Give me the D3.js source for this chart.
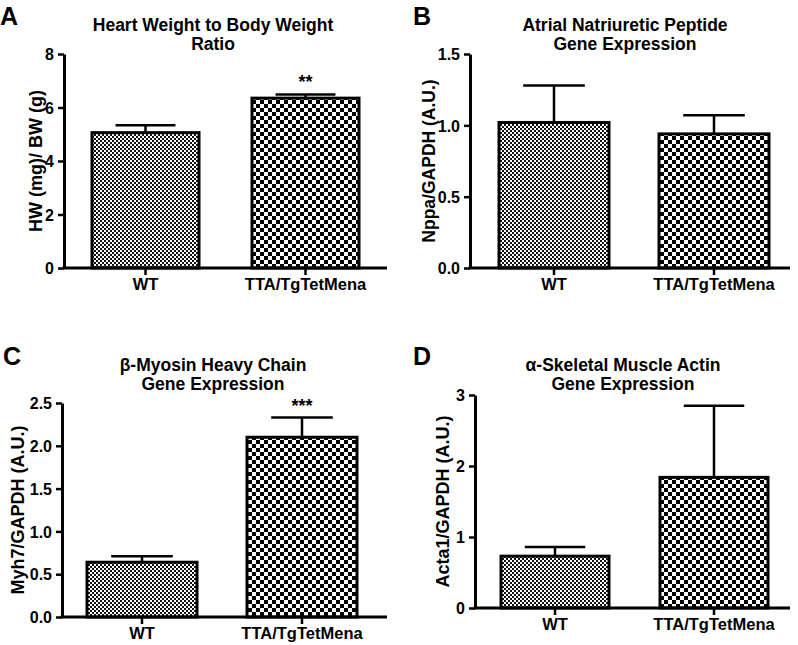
<!DOCTYPE html>
<html><head><meta charset="utf-8">
<script src="https://cdn.jsdelivr.net/npm/d3@7"></script>
<style>
body{margin:0;background:#fff}
svg{display:block}
text{font-family:"Liberation Sans",Arial,Helvetica,sans-serif;font-weight:bold;fill:#000}
</style>
</head><body>
<svg id="c" width="798" height="645"></svg>
<script>
// ---- data ----
const categories = ["WT", "TTA/TgTetMena"];
const hwbwMean = [5.06, 6.35];
const hwbwSem = [0.28, 0.14];
const nppaMean = [1.02, 0.94];
const nppaSem = [0.26, 0.13];
const myh7Mean = [0.64, 2.10];
const myh7Sem = [0.07, 0.23];
const acta1Mean = [0.73, 1.84];
const acta1Sem = [0.13, 1.01];
const hwbwTicks = [0, 2, 4, 6, 8];
const nppaTicks = [0, 0.5, 1.0, 1.5];
const myh7Ticks = [0, 0.5, 1.0, 1.5, 2.0, 2.5];
const acta1Ticks = [0, 1, 2, 3];
const panelLetters = ["A", "B", "C", "D"];
const titles = [
  ["Heart Weight to Body Weight", "Ratio"],
  ["Atrial Natriuretic Peptide", "Gene Expression"],
  ["β-Myosin Heavy Chain", "Gene Expression"],
  ["α-Skeletal Muscle Actin", "Gene Expression"]
];
const yLabels = ["HW (mg)/ BW (g)", "Nppa/GAPDH (A.U.)", "Myh7/GAPDH (A.U.)", "Acta1/GAPDH (A.U.)"];
const stars = [["", "**"], ["", ""], ["", "***"], ["", ""]];

// ---- layout ----
const layout = [
  {ax:64, axEnd:387, top:54, bottom:268, bar0:92, bw:107, step:160, titleX:213, titleY:31, letterX:0, letterY:25, ylabX:36, ylabSize:18, fmt:d3.format("d")},
  {ax:470, axEnd:790, top:54, bottom:268, bar0:499, bw:110, step:160, titleX:625, titleY:31, letterX:413, letterY:25, ylabX:429, ylabSize:17.5, fmt:d3.format(".1f")},
  {ax:62, axEnd:387, top:403, bottom:617, bar0:87, bw:110, step:160, titleX:213, titleY:371, letterX:3, letterY:365, ylabX:18, ylabSize:18, fmt:d3.format(".1f")},
  {ax:475, axEnd:790, top:395, bottom:608, bar0:501, bw:108, step:159, titleX:623, titleY:371, letterX:413, letterY:365, ylabX:443, ylabSize:18, fmt:d3.format("d")}
];
const means = [hwbwMean, nppaMean, myh7Mean, acta1Mean];
const sems = [hwbwSem, nppaSem, myh7Sem, acta1Sem];
const ticks = [hwbwTicks, nppaTicks, myh7Ticks, acta1Ticks];

const svg = d3.select("#c");
const defs = svg.append("defs");
// fine checker for WT
const p1 = defs.append("pattern").attr("id","fine").attr("patternUnits","userSpaceOnUse").attr("width",4).attr("height",4);
p1.append("rect").attr("width",4).attr("height",4).attr("fill","#fff");
p1.append("rect").attr("width",2).attr("height",2).attr("fill","#111");
p1.append("rect").attr("x",2).attr("y",2).attr("width",2).attr("height",2).attr("fill","#111");
// coarse checker for TTA
const p2 = defs.append("pattern").attr("id","coarse").attr("patternUnits","userSpaceOnUse").attr("width",8).attr("height",8);
p2.append("rect").attr("width",8).attr("height",8).attr("fill","#fff");
p2.append("rect").attr("width",4).attr("height",4).attr("fill","#000");
p2.append("rect").attr("x",4).attr("y",4).attr("width",4).attr("height",4).attr("fill","#000");
const fills = ["url(#fine)", "url(#coarse)"];

layout.forEach((L, k) => {
  const g = svg.append("g");
  const x = d3.scaleBand().domain(categories)
    .range([L.bar0, L.bar0 + L.step + L.bw])
    .paddingInner(1 - L.bw / L.step).paddingOuter(0);
  const tk = ticks[k];
  const y = d3.scaleLinear().domain([0, tk[tk.length - 1]]).range([L.bottom, L.top]);
  const data = categories.map((c, i) => ({c, m: means[k][i], s: sems[k][i], star: stars[k][i], i}));

  // error bars (upward only)
  data.forEach(d => {
    const cx = x(d.c) + x.bandwidth() / 2;
    const cw = x.bandwidth() * 0.56;
    g.append("line").attr("x1", cx).attr("x2", cx).attr("y1", y(d.m)).attr("y2", y(d.m + d.s))
      .attr("stroke", "#000").attr("stroke-width", 2.5);
    g.append("line").attr("x1", cx - cw / 2).attr("x2", cx + cw / 2).attr("y1", y(d.m + d.s)).attr("y2", y(d.m + d.s))
      .attr("stroke", "#000").attr("stroke-width", 2.5);
    if (d.star) {
      g.append("text").attr("x", cx).attr("y", y(d.m + d.s) - 6).attr("text-anchor", "middle")
        .attr("font-size", 18).text(d.star);
    }
  });
  // bars
  g.selectAll("rect.bar").data(data).enter().append("rect").attr("class", "bar")
    .attr("x", d => x(d.c)).attr("width", x.bandwidth())
    .attr("y", d => y(d.m)).attr("height", d => y(0) - y(d.m))
    .attr("fill", d => fills[d.i]).attr("stroke", "#000").attr("stroke-width", 3);

  // y axis
  const ya = g.append("g").attr("transform", `translate(${L.ax},0)`)
    .call(d3.axisLeft(y).tickValues(tk).tickFormat(L.fmt).tickSize(6).tickSizeOuter(0).tickPadding(4));
  ya.select(".domain").attr("stroke-width", 3);
  ya.selectAll(".tick line").attr("stroke-width", 2.5);
  ya.selectAll("text").attr("font-size", 16).attr("font-family", null).attr("dy", "0.36em");

  // x axis
  const xa = g.append("g").attr("transform", `translate(0,${L.bottom})`)
    .call(d3.axisBottom(x).tickSize(7).tickSizeOuter(0).tickPadding(3));
  xa.select(".domain").remove();
  xa.selectAll(".tick line").attr("stroke-width", 2.5);
  xa.selectAll("text").attr("font-size", 16.5).attr("font-family", null);
  g.append("line").attr("x1", L.ax - 1.5).attr("x2", L.axEnd).attr("y1", L.bottom).attr("y2", L.bottom)
    .attr("stroke", "#000").attr("stroke-width", 3);

  // y label
  g.append("text").attr("transform", `translate(${L.ylabX},${(L.top + L.bottom) / 2}) rotate(-90)`)
    .attr("text-anchor", "middle").attr("dy", "0.36em").attr("font-size", L.ylabSize).text(yLabels[k]);

  // title
  titles[k].forEach((t, j) => {
    g.append("text").attr("x", L.titleX).attr("y", L.titleY + j * 19).attr("text-anchor", "middle")
      .attr("font-size", 17.5).text(t);
  });
  // panel letter
  g.append("text").attr("x", L.letterX).attr("y", L.letterY).attr("font-size", 25).text(panelLetters[k]);
});
</script>
</body></html>
